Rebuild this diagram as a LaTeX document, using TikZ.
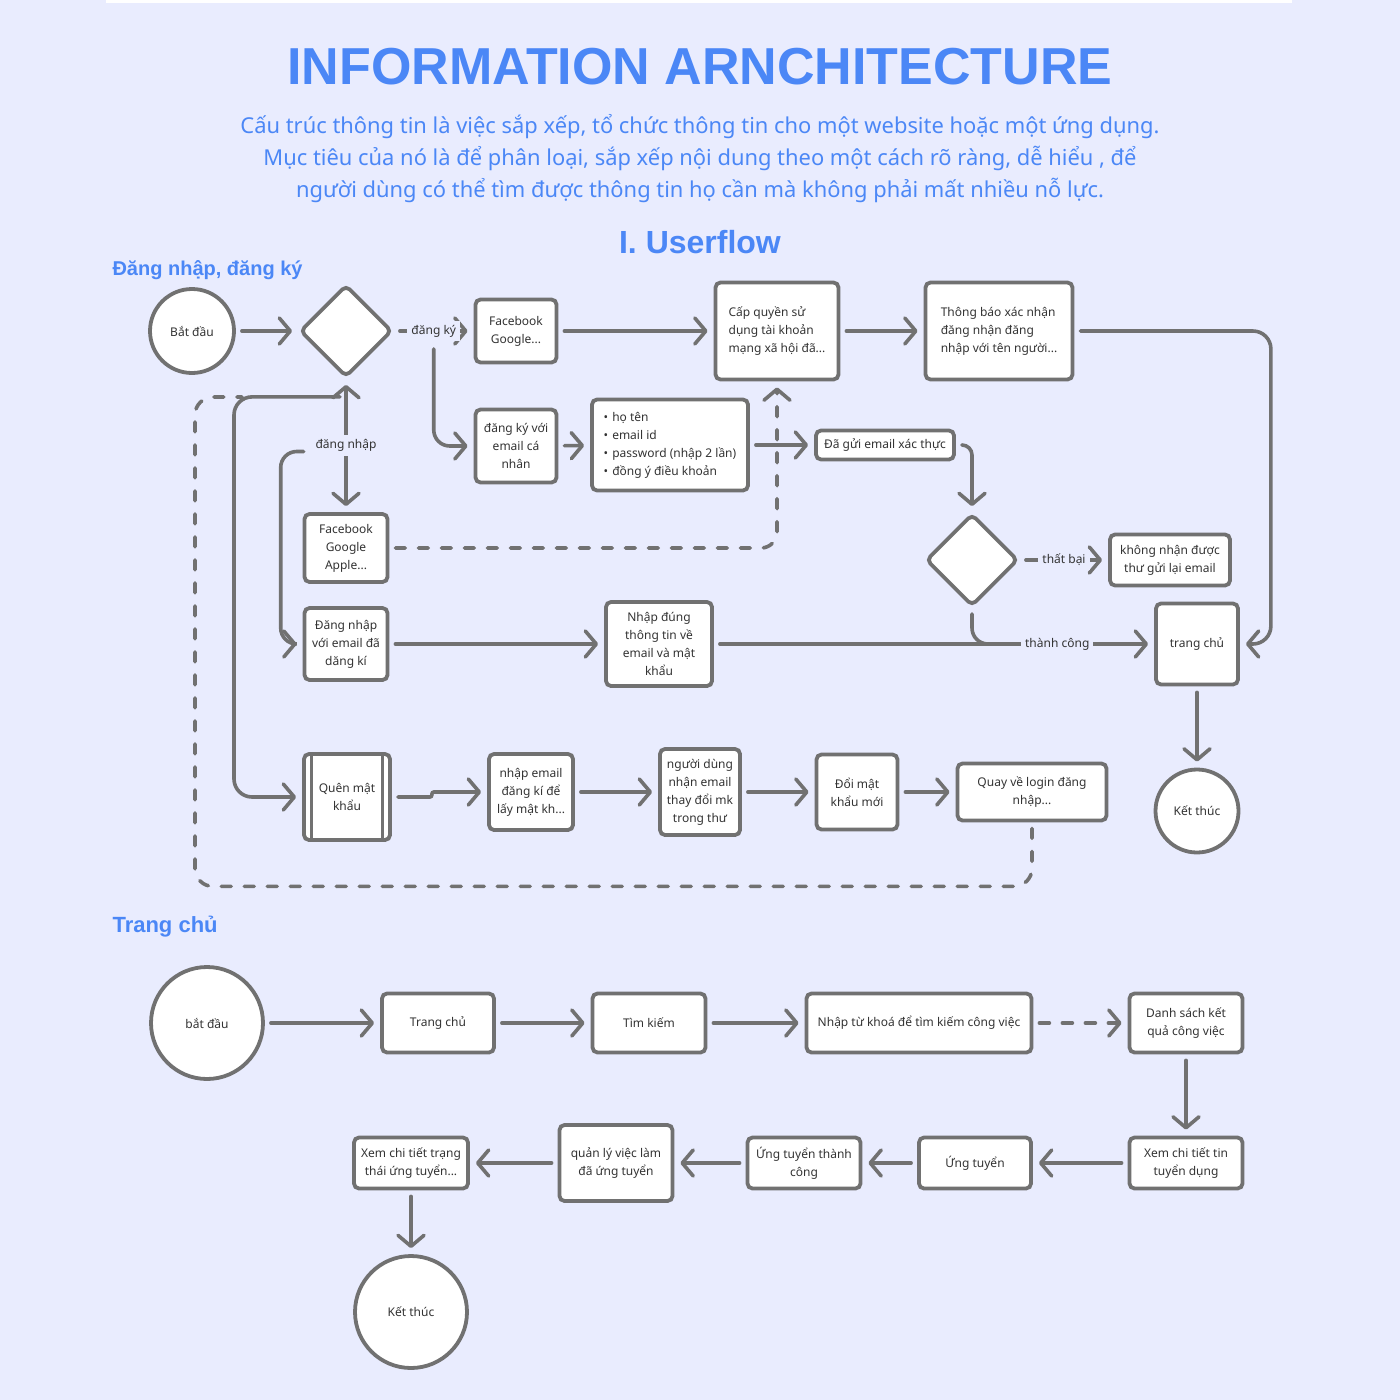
\documentclass[tikz,border=0pt]{standalone}
\usepackage{fontspec}
\setmainfont{Noto Sans}
\newfontfamily\headfont{Liberation Sans}
\usepackage{xcolor}
\usetikzlibrary{
    positioning,
    arrows.meta,
    shapes.geometric
}

\definecolor{bgcol}{HTML}{E9ECFE}
\definecolor{headblue}{HTML}{4B87F6}
\definecolor{linegray}{HTML}{717171}
\definecolor{textgray}{HTML}{333333}
\newcommand{\boxfont}{\fontsize{12}{18}\selectfont}
\tikzset{
    wh/.style 2 args={minimum width=#1pt, minimum height=#2pt}
}

\begin{document}
\begin{tikzpicture}[
    x=1pt, y=-1pt,
    >={Straight Barb[length=11pt,width=26pt,round]},
    box/.style={
        rectangle,
        rounded corners=5pt,
        draw=linegray,
        line width=3.8pt,
        fill=white,
        align=center,
        text=textgray,
        font=\boxfont,
        inner sep=2pt
    },
    endpoint/.style={circle, draw=linegray, line width=3.8pt, fill=white, text=textgray, font=\boxfont},
    decision/.style={diamond, aspect=1, rounded corners=5pt, draw=linegray, line width=3.8pt, fill=white, minimum size=92pt},
    lbl/.style={fill=bgcol, text=textgray, font=\boxfont, inner sep=4pt},
    arrow/.style={->, draw=linegray, line width=3.6pt, line cap=round, shorten >=6pt, shorten <=6pt},
    link/.style={draw=linegray, line width=3.6pt, line cap=round, shorten <=6pt},
    dasharrow/.style={arrow, dash pattern=on 10pt off 13pt},
    dashlink/.style={link, dash pattern=on 10pt off 13pt},
    heading/.style={text=headblue, anchor=base}
]

% background
\useasboundingbox (0,0) rectangle (1400,1400);
\fill[bgcol] (0,0) rectangle (1400,1400);
\fill[white] (106,0) rectangle (1292,3);

% headings
\node[heading, font=\headfont\fontsize{52}{60}\bfseries] (title) at (700,84) {INFORMATION ARNCHITECTURE};
\node[heading, font=\fontsize{21.9}{32}\selectfont] (intro1) at (700,133) {Cấu trúc thông tin là việc sắp xếp, tổ chức thông tin cho một website hoặc một ứng dụng.};
\node[heading, font=\fontsize{21.9}{32}\selectfont] (intro2) at (700,165) {Mục tiêu của nó là để phân loại, sắp xếp nội dung theo một cách rõ ràng, dễ hiểu , để};
\node[heading, font=\fontsize{21.9}{32}\selectfont] (intro3) at (700,197) {người dùng có thể tìm được thông tin họ cần mà không phải mất nhiều nỗ lực.};
\node[heading, font=\headfont\fontsize{32}{40}\bfseries] (userflow) at (700,253) {I. Userflow};
\node[heading, anchor=base west, font=\headfont\fontsize{20}{24}\bfseries] (secLogin) at (109,275) {Đăng nhập, đăng ký};
\node[heading, anchor=base west, font=\headfont\fontsize{22}{26}\bfseries] (secHome) at (109,932) {Trang chủ};

% login / signup flow
\node[endpoint, minimum size=84pt] (start) at (192,331) {Bắt đầu};
\node[decision] (dchoice) at (346,331) {};
\node[box, wh={81}{63}] (fbSignup) at (516,331) {Facebook\\Google...};
\node[box, wh={123}{97}, align=left] (perm) at (777,331) {Cấp quyền sử\\dụng tài khoản\\mạng xã hội đã...};
\node[box, wh={147}{97}, align=left] (notify) at (999,331) {Thông báo xác nhận\\đăng nhận đăng\\nhập với tên người...};
\node[box, wh={81}{73}] (emailSignup) at (516,446) {đăng ký với\\email cá\\nhân};
\node[box, wh={156}{91}, align=left] (info) at (670,445) {•\hspace{4pt}họ tên\\•\hspace{4pt}email id\\•\hspace{4pt}password (nhập 2 lần)\\•\hspace{4pt}đồng ý điều khoản};
\node[box, wh={138}{29}] (sent) at (885,445) {Đã gửi email xác thực};
\node[decision] (dverify) at (972,560) {};
\node[box, wh={120}{51}] (resend) at (1170,560) {không nhận được\\thư gửi lại email};
\node[box, wh={82}{81}] (home) at (1197,644) {trang chủ};
\node[endpoint, minimum size=83pt] (finish) at (1197,811) {Kết thúc};
\node[box, wh={83}{68}] (fbLogin) at (346,548) {Facebook\\Google\\Apple...};
\node[box, wh={83}{72}] (emailLogin) at (346,644) {Đăng nhập\\với email đã\\dăng kí};
\node[box, wh={106}{84}] (correct) at (659,644) {Nhập đúng\\thông tin về\\email và mật\\khẩu};
\node[box, wh={86}{86}] (forgot) at (347,797) {Quên mật\\khẩu};
\node[box, wh={84}{76}] (enterMail) at (531,792) {nhập email\\đăng kí để\\lấy mật kh...};
\node[box, wh={80}{86}] (recvMail) at (700,792) {người dùng\\nhận email\\thay đổi mk\\trong thư};
\node[box, wh={81}{75}] (newPass) at (857,792) {Đổi mật\\khẩu mới};
\node[box, wh={149}{57}] (back) at (1032,792) {Quay về login đăng\\nhập...};
\draw[linegray, line width=3pt] ([xshift=9pt,yshift=-3pt]forgot.north west) -- ([xshift=9pt,yshift=3pt]forgot.south west);
\draw[linegray, line width=3pt] ([xshift=-9pt,yshift=-3pt]forgot.north east) -- ([xshift=-9pt,yshift=3pt]forgot.south east);

\draw[arrow] (start) -- (dchoice);
\draw[arrow] (dchoice) -- node[lbl] (lblSignup) {đăng ký} (fbSignup);
\draw[arrow, rounded corners=16pt] (lblSignup.south) |- (emailSignup.west);
\draw[arrow] (fbSignup) -- (perm);
\draw[arrow] (perm) -- (notify);
\draw[arrow] (emailSignup) -- (info);
\draw[arrow] (info) -- (sent);
\draw[arrow, rounded corners=10pt] (sent.east) -| (dverify.north);
\draw[arrow] (dverify) -- node[lbl] {thất bại} (resend);
\draw[arrow, rounded corners=18pt] (notify.east) -| ([xshift=31pt]home.east) -- (home.east);
\draw[arrow] (home) -- (finish);
\draw[arrow] (emailLogin) -- (correct);
\draw[arrow] (correct) -- node[lbl, pos=0.78] {thành công} (home);
\coordinate (merge) at (1005,644);
\draw[link, rounded corners=16pt] (dverify.south) |- (merge);
\draw[arrow, <->] (dchoice) -- node[lbl] (lblLogin) {đăng nhập} (fbLogin);
\draw[arrow, rounded corners=16pt] ([yshift=-6pt]lblLogin.west) -- ++(-29,0) |- (emailLogin.west);
\draw[arrow, rounded corners=18pt] ([yshift=-18pt]dchoice.south) -- ++(-112,0) |- (forgot.west);
\coordinate (loopEnd) at (242,397);
\draw[dashlink, rounded corners=18pt] (back.south) -- ++(0,64) -| (195,397) -- (loopEnd);
\draw[dasharrow, rounded corners=16pt] (fbLogin.east) -| (perm.south);
\draw[arrow, rounded corners=2pt] (forgot.east) -- ++(40,0) -- ++(0,-5) -- (enterMail.west);
\draw[arrow] (enterMail) -- (recvMail);
\draw[arrow] (recvMail) -- (newPass);
\draw[arrow] (newPass) -- (back);

% home page flow
\node[endpoint, minimum size=112pt] (start2) at (207,1023) {bắt đầu};
\node[box, wh={112}{59}] (home2) at (438,1023) {Trang chủ};
\node[box, wh={113}{59}] (search) at (649,1023) {Tìm kiếm};
\node[box, wh={225}{59}] (keyword) at (919,1023) {Nhập từ khoá để tìm kiếm công việc};
\node[box, wh={113}{59}] (results) at (1186,1023) {Danh sách kết\\quả công việc};
\node[box, wh={113}{51}] (detail) at (1186,1163) {Xem chi tiết tin\\tuyển dụng};
\node[box, wh={112}{51}] (apply) at (975,1163) {Ứng tuyển};
\node[box, wh={113}{51}] (success) at (804,1163) {Ứng tuyển thành\\công};
\node[box, wh={113}{76}] (manage) at (616,1163) {quản lý việc làm\\đã ứng tuyển};
\node[box, wh={114}{51}] (status) at (411,1163) {Xem chi tiết trạng\\thái ứng tuyển...};
\node[endpoint, minimum size=112pt] (finish2) at (411,1312) {Kết thúc};

\draw[arrow] (start2) -- (home2);
\draw[arrow] (home2) -- (search);
\draw[arrow] (search) -- (keyword);
\draw[dasharrow] (keyword) -- (results);
\draw[arrow] (results) -- (detail);
\draw[arrow] (detail) -- (apply);
\draw[arrow] (apply) -- (success);
\draw[arrow] (success) -- (manage);
\draw[arrow] (manage) -- (status);
\draw[arrow] (status) -- (finish2);

\end{tikzpicture}
\end{document}
